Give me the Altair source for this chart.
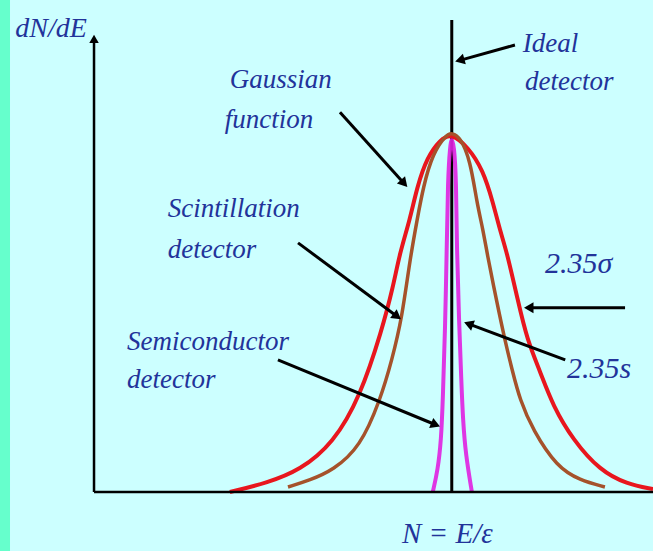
import math
import altair as alt
import pandas as pd

# ---------------- data (arbitrary units: N channel 0-100, counts as % of peak) ----------------
red_x = [24.3, 30.9, 36.9, 42.8, 47.6, 51.5, 53.5, 54.7, 56.5, 57.8, 59.6, 61.9, 63.9,
         66.9, 69.6, 71.4, 72.6, 73.9, 75.8, 77.5, 79.8, 82.1, 85.7, 90.5, 95.3, 100.0]
red_y = [0.0, 2.5, 6.1, 13.6, 26.5, 45.1, 57.1, 66.6, 75.8, 85.0, 93.3, 98.1, 100.0,
         96.1, 89.7, 80.5, 73.0, 66.6, 53.5, 42.3, 33.6, 24.0, 14.5, 6.0, 2.2, 0.8]

brown_x = [34.7, 38.6, 42.8, 47.6, 51.2, 53.3, 55.1, 56.5, 57.8, 58.9, 60.6, 63.1, 64.0,
           65.5, 67.3, 68.5, 69.6, 70.3, 72.1, 73.5, 74.8, 76.2, 78.5, 82.8, 86.9, 91.4]
brown_y = [1.4, 3.3, 6.1, 12.5, 25.6, 36.8, 48.5, 64.6, 75.8, 85.0, 94.4, 99.7, 100.0,
           98.9, 92.5, 80.5, 73.0, 66.6, 52.6, 42.3, 34.0, 25.6, 17.3, 7.0, 3.3, 1.4]

mag_x = [60.6, 61.5, 62.1, 62.4, 62.8, 63.1, 63.3, 63.7, 64.0, 64.4, 64.8, 64.9, 65.3,
         65.7, 66.0, 66.5, 67.6]
mag_y = [0.0, 6.1, 14.5, 25.6, 45.1, 67.4, 86.9, 96.7, 98.6, 96.7, 86.9, 67.4, 47.9,
         31.2, 20.1, 10.3, 0.0]

ideal_x = [64.0]
ideal_top = [131.5]

axis_x_end = [100.0]
axis_y_top = [127.9]

# arrows: start (x, y) -> tip (x2, y2)
arrow_x = [75.3, 44.0, 36.5, 32.9, 95.0, 84.3]
arrow_y = [124.5, 105.8, 69.4, 36.8, 51.3, 36.8]
arrow_x2 = [64.4, 56.2, 55.1, 62.1, 76.7, 66.0]
arrow_y2 = [119.8, 84.7, 47.9, 18.1, 51.3, 47.4]

label_text = ["dN/dE", "Ideal", "detector", "Gaussian", "function", "Scintillation",
              "detector", "Semiconductor", "detector", "2.35σ", "2.35s", "N = E/ε"]
label_x = [-14.1, 76.7, 77.1, 24.3, 23.4, 13.2, 13.2, 5.9, 5.9, 80.7, 84.6, 55.1]
label_y = [126.7, 122.6, 112.0, 112.5, 101.4, 76.6, 65.2, 39.6, 29.0, 61.0, 31.8, -14.2]
label_size = [28, 27, 27, 27, 27, 27, 27, 27, 27, 30, 30, 29]

# ---------------- layout ----------------
W, H = 653, 551
X_DOMAIN = [-16.82, 100.0]
Y_DOMAIN = [-16.43, 137.05]
STRIP_END = -15.03

BG = "#CCFFFF"
STRIP = "#66FFCC"
TEXT = "#22339A"

sx = W / (X_DOMAIN[1] - X_DOMAIN[0])
sy = H / (Y_DOMAIN[1] - Y_DOMAIN[0])

xs = alt.Scale(domain=X_DOMAIN, nice=False, zero=False)
ys = alt.Scale(domain=Y_DOMAIN, nice=False, zero=False)
X = lambda f: alt.X(f, type="quantitative", scale=xs, axis=None)
Y = lambda f: alt.Y(f, type="quantitative", scale=ys, axis=None)


def arrow_geometry(x0, y0, x1, y1, back=6.0):
    dxp = (x1 - x0) * sx
    dyp = -(y1 - y0) * sy
    L = math.hypot(dxp, dyp)
    ux, uy = dxp / L, dyp / L
    hx = x1 - back * ux / sx
    hy = y1 + back * uy / sy
    ang = math.degrees(math.atan2(dxp, -dyp)) % 360
    return hx, hy, ang


shafts, heads = [], []
for x0, y0, x1, y1 in zip(arrow_x, arrow_y, arrow_x2, arrow_y2):
    hx, hy, ang = arrow_geometry(x0, y0, x1, y1)
    shafts.append({"x": x0, "y": y0, "x2": hx, "y2": hy})
    heads.append({"x": hx, "y": hy, "angle": ang})

yhx, yhy, yang = arrow_geometry(0.0, 0.0, 0.0, axis_y_top[0], back=6.0)

strip = alt.Chart(pd.DataFrame({"x": [X_DOMAIN[0]], "x2": [STRIP_END],
                                "y": [Y_DOMAIN[0]], "y2": [Y_DOMAIN[1]]})).mark_rect(
    color=STRIP).encode(x=X("x"), x2="x2", y=Y("y"), y2="y2")

x_axis = alt.Chart(pd.DataFrame({"x": [0.0], "x2": axis_x_end, "y": [0.0]})).mark_rule(
    color="black", strokeWidth=2.5).encode(x=X("x"), x2="x2", y=Y("y"))
y_axis = alt.Chart(pd.DataFrame({"x": [0.0], "y": [0.0], "y2": [yhy]})).mark_rule(
    color="black", strokeWidth=2.5).encode(x=X("x"), y=Y("y"), y2="y2")
y_head = alt.Chart(pd.DataFrame({"x": [yhx], "y": [yhy], "angle": [yang]})).mark_point(
    shape="triangle-up", filled=True, size=90, color="black", opacity=1).encode(
    x=X("x"), y=Y("y"), angle=alt.Angle("angle:Q", scale=None))

ideal = alt.Chart(pd.DataFrame({"x": ideal_x, "y": [0.0], "y2": ideal_top})).mark_rule(
    color="black", strokeWidth=3).encode(x=X("x"), y=Y("y"), y2="y2")


def curve(xv, yv, color, width, opacity=1.0):
    return alt.Chart(pd.DataFrame({"x": xv, "y": yv})).mark_line(
        color=color, strokeWidth=width, interpolate="basis", opacity=opacity).encode(
        x=X("x"), y=Y("y"))


red = curve(red_x, red_y, "#E8161E", 4)
brown = curve(brown_x, brown_y, "#A5522B", 3.5)
magenta = curve(mag_x, mag_y, "#E020E0", 4, 0.9)

arrow_lines = alt.Chart(pd.DataFrame(shafts)).mark_rule(
    color="black", strokeWidth=3).encode(x=X("x"), y=Y("y"), x2="x2", y2="y2")
arrow_heads = alt.Chart(pd.DataFrame(heads)).mark_point(
    shape="triangle-up", filled=True, size=120, color="black", opacity=1).encode(
    x=X("x"), y=Y("y"), angle=alt.Angle("angle:Q", scale=None))

labels = alt.Chart(pd.DataFrame({"t": label_text, "x": label_x, "y": label_y,
                                 "s": label_size})).mark_text(
    align="left", baseline="alphabetic", font="Liberation Serif", fontStyle="italic",
    color=TEXT).encode(x=X("x"), y=Y("y"), text="t:N", size=alt.Size("s:Q", scale=None))

chart = alt.layer(strip, ideal, red, brown, magenta, x_axis, y_axis, y_head,
                  arrow_lines, arrow_heads, labels).properties(
    width=W, height=H, autosize="none", padding=0, background=BG
).configure_view(strokeWidth=0, fill=BG)

chart.save("out.html", embed_options={"renderer": "svg", "actions": False})
